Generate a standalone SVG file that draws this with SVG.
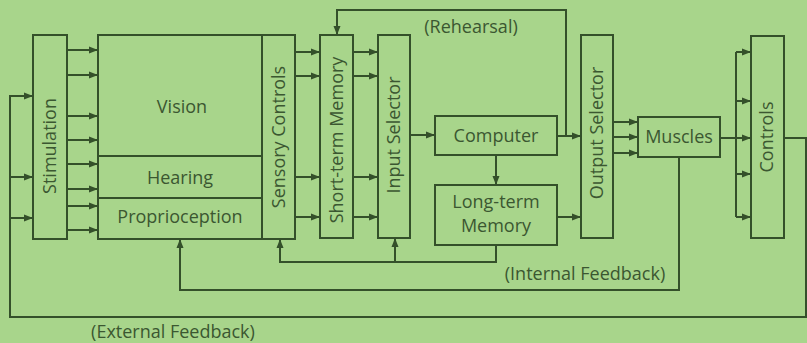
<svg xmlns="http://www.w3.org/2000/svg" width="807" height="343" viewBox="0 0 807 343">
<defs>
<marker id="ah" markerUnits="userSpaceOnUse" markerWidth="10" markerHeight="8" refX="9" refY="4" orient="auto">
<path d="M0,0.5 L9,4 L0,7.5 z" fill="#34502a"/>
</marker>
<style>
.box{fill:none;stroke:#34502a;stroke-width:2}
.c{fill:none;stroke:#34502a;stroke-width:2;marker-end:url(#ah)}
.l{fill:none;stroke:#34502a;stroke-width:2}
text{font-family:"Open Sans","Liberation Sans",sans-serif;font-size:18px;fill:#3b5731;text-anchor:middle}
</style>
</defs>
<rect width="807" height="343" fill="#a8d58b"/>
<g id="stimulation"><rect class="box" x="33" y="35" width="34" height="204"/><text transform="translate(50,146) rotate(-90)" y="6">Stimulation</text></g>
<g id="vision"><rect class="box" x="98" y="35" width="164" height="121"/><text x="182" y="113">Vision</text></g>
<g id="hearing"><rect class="box" x="98" y="156" width="164" height="42"/><text x="180" y="184">Hearing</text></g>
<g id="proprioception"><rect class="box" x="98" y="198" width="164" height="41"/><text x="180" y="223">Proprioception</text></g>
<g id="sensory-controls"><rect class="box" x="262" y="35" width="33" height="204"/><text transform="translate(279,137) rotate(-90)" y="6">Sensory Controls</text></g>
<g id="short-term-memory"><rect class="box" x="320" y="35" width="33" height="203"/><text transform="translate(337,140) rotate(-90)" y="6">Short-term Memory</text></g>
<g id="input-selector"><rect class="box" x="378" y="35" width="32" height="203"/><text transform="translate(394,135) rotate(-90)" y="6">Input Selector</text></g>
<g id="computer"><rect class="box" x="435" y="116" width="122" height="39"/><text x="496" y="142">Computer</text></g>
<g id="long-term-memory"><rect class="box" x="435" y="185" width="122" height="60"/><text x="496" y="208">Long-term</text><text x="496" y="232">Memory</text></g>
<g id="output-selector"><rect class="box" x="581" y="35" width="32" height="203"/><text transform="translate(597,133) rotate(-90)" y="6">Output Selector</text></g>
<g id="muscles"><rect class="box" x="638" y="117" width="82" height="40"/><text x="679" y="143">Muscles</text></g>
<g id="controls"><rect class="box" x="751" y="36" width="33" height="202"/><text transform="translate(767,137) rotate(-90)" y="6">Controls</text></g>
<g id="connectors">
<path class="c" d="M67,50 H98"/><path class="c" d="M67,75 H98"/><path class="c" d="M67,116 H98"/><path class="c" d="M67,140 H98"/>
<path class="c" d="M67,164 H98"/><path class="c" d="M67,189 H98"/><path class="c" d="M67,206 H98"/><path class="c" d="M67,230 H98"/>
<path class="c" d="M784,138 H806 V317 H10 V96 H33"/>
<path class="c" d="M10,177 H33"/><path class="c" d="M10,218 H33"/>
<path class="c" d="M295,52 H320"/><path class="c" d="M295,76 H320"/><path class="c" d="M295,177 H320"/><path class="c" d="M295,217 H320"/>
<path class="c" d="M353,52 H378"/><path class="c" d="M353,76 H378"/><path class="c" d="M353,177 H378"/><path class="c" d="M353,217 H378"/>
<path class="c" d="M410,135 H435"/>
<path class="c" d="M496,155 V185"/>
<path class="c" d="M557,136 H581"/>
<path class="c" d="M566,136 V10 H337 V35"/>
<path class="c" d="M557,217 H581"/>
<path class="c" d="M496,245 V262 H280 V239"/>
<path class="c" d="M395,262 V238"/>
<path class="c" d="M613,122 H638"/><path class="c" d="M613,137 H638"/><path class="c" d="M613,153 H638"/>
<path class="c" d="M720,138 H751"/>
<path class="l" d="M736,52 V217"/>
<path class="c" d="M736,52 H751"/><path class="c" d="M736,101 H751"/><path class="c" d="M736,174 H751"/><path class="c" d="M736,217 H751"/>
<path class="c" d="M679,157 V290 H180 V239"/>
</g>
<g id="labels">
<text x="471" y="33">(Rehearsal)</text>
<text x="585" y="280">(Internal Feedback)</text>
<text x="173" y="338">(External Feedback)</text>
</g>
</svg>
